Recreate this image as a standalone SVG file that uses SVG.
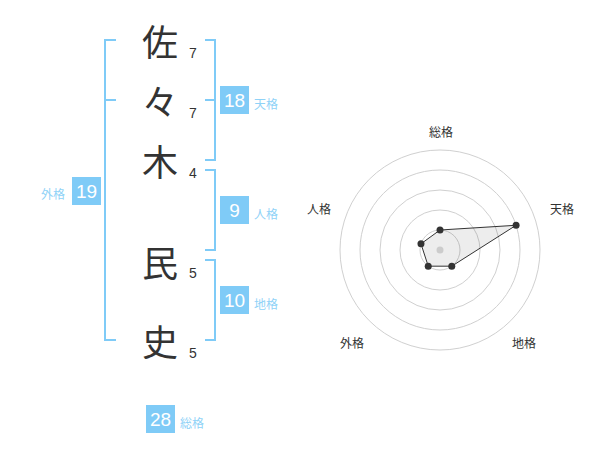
<svg xmlns="http://www.w3.org/2000/svg" width="600" height="470" viewBox="0 0 600 470">
<style>
.kanji{font-family:"Noto Sans CJK JP",sans-serif;font-size:36px;fill:#333;text-anchor:middle;dominant-baseline:central}
.num{font-family:"Liberation Sans",Arial,sans-serif;font-size:14px;fill:#333}
.br{fill:none;stroke:#7fcbf7;stroke-width:2}
.badge{fill:#7fcbf7}
.bt{font-family:"Liberation Sans",Arial,sans-serif;font-size:19px;fill:#fff;text-anchor:middle;dominant-baseline:central}
.bl{font-family:"Noto Sans CJK JP",sans-serif;font-size:12px;fill:#8fd2f7;dominant-baseline:central}
.ring{fill:none;stroke:#d0d0d0;stroke-width:1}
.rl{font-family:"Noto Sans CJK JP",sans-serif;font-size:12px;fill:#333;text-anchor:middle;dominant-baseline:central}
.dot{fill:#333}
</style>
<rect width="600" height="470" fill="#fff"/>
<g id="chars">
<text class="kanji" x="160" y="40">佐</text>
<text class="kanji" x="160" y="100">々</text>
<text class="kanji" x="160" y="160">木</text>
<text class="kanji" x="160" y="261">民</text>
<text class="kanji" x="160" y="340">史</text>
<text class="num" x="189" y="58">7</text>
<text class="num" x="189" y="118">7</text>
<text class="num" x="189" y="178">4</text>
<text class="num" x="189" y="278">5</text>
<text class="num" x="189" y="358">5</text>
</g>
<g id="connectors">
<path class="br" d="M116,40 H105 V340 H116 M105,100 H116"/>
<path class="br" d="M205,40 H215 V160 H205 M215,100 H205"/>
<path class="br" d="M205,170 H215 V250 H205"/>
<path class="br" d="M205,260 H215 V340 H205"/>
</g>
<g id="tenkaku">
<rect class="badge" x="220" y="86" width="29" height="28"/>
<text class="bt" x="234.5" y="100.5">18</text>
<text class="bl" x="254" y="103">天格</text>
</g>
<g id="jinkaku">
<rect class="badge" x="220" y="196" width="29" height="28"/>
<text class="bt" x="234.5" y="210.5">9</text>
<text class="bl" x="254" y="213">人格</text>
</g>
<g id="chikaku">
<rect class="badge" x="220" y="286" width="29" height="28"/>
<text class="bt" x="234.5" y="300.5">10</text>
<text class="bl" x="254" y="303">地格</text>
</g>
<g id="gaikaku">
<rect class="badge" x="72" y="177" width="29" height="28"/>
<text class="bt" x="86.5" y="191.5">19</text>
<text class="bl" x="41" y="193">外格</text>
</g>
<g id="soukaku">
<rect class="badge" x="146" y="405" width="29" height="28"/>
<text class="bt" x="160.5" y="419.5">28</text>
<text class="bl" x="180" y="422">総格</text>
</g>
<g id="radar">
<circle class="ring" cx="440" cy="250" r="100"/>
<circle class="ring" cx="440" cy="250" r="80"/>
<circle class="ring" cx="440" cy="250" r="60"/>
<circle class="ring" cx="440" cy="250" r="40"/>
<circle class="ring" cx="440" cy="250" r="20"/>
<polygon points="440,230 516.08,225.28 451.76,266.18 428.24,266.18 420.98,243.82" fill="#000" fill-opacity="0.07" stroke="#333" stroke-width="1"/>
<circle cx="440" cy="250" r="3.5" fill="#ccc"/>
<circle class="dot" cx="440" cy="230" r="3.5"/>
<circle class="dot" cx="516.08" cy="225.28" r="3.5"/>
<circle class="dot" cx="451.76" cy="266.18" r="3.5"/>
<circle class="dot" cx="428.24" cy="266.18" r="3.5"/>
<circle class="dot" cx="420.98" cy="243.82" r="3.5"/>
<text class="rl" x="441" y="131">総格</text>
<text class="rl" x="562" y="208">天格</text>
<text class="rl" x="524" y="342">地格</text>
<text class="rl" x="352" y="342">外格</text>
<text class="rl" x="319" y="208">人格</text>
</g>
</svg>
